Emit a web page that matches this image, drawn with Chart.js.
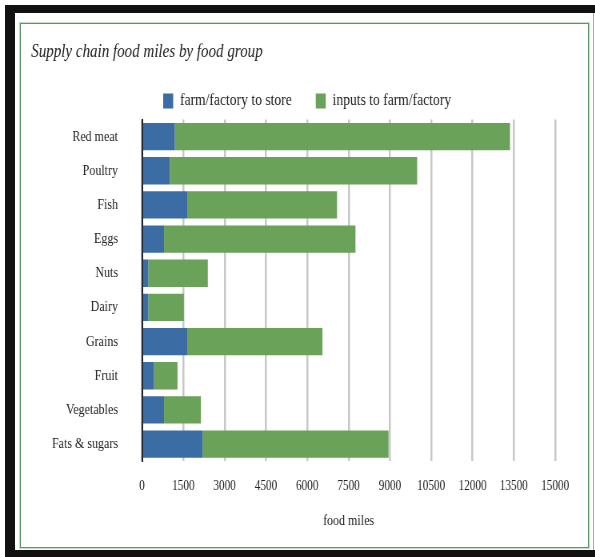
<!DOCTYPE html>
<html>
<head>
<meta charset="utf-8">
<script src="https://cdn.jsdelivr.net/npm/chart.js@4.4.0/dist/chart.umd.min.js"></script>
<style>
  body { margin: 0; background: #fff; overflow: hidden; }
  .frame { position: absolute; }
  #wrap { position: absolute; left: 0; top: 0; width: 744px; height: 557px; transform: scaleX(0.8); transform-origin: 0 0; }
</style>
</head>
<body>
<div class="frame" style="left:5px;top:5px;width:590px;height:8px;background:#111"></div>
<div class="frame" style="left:5px;top:5px;width:10px;height:552px;background:#111"></div>
<div class="frame" style="left:5px;top:550px;width:590px;height:7px;background:#111"></div>
<div class="frame" style="left:593px;top:13px;width:1px;height:537px;background:#aaa"></div>
<div class="frame" style="left:20px;top:23px;width:567px;height:523px;border:1px solid #5b9467;box-shadow:0 0 1px 1px #c9dfcc"></div>
<div id="wrap"><canvas id="chart" width="744" height="557"></canvas></div>
<script>
// food groups, top to bottom
const categories = ['Red meat', 'Poultry', 'Fish', 'Eggs', 'Nuts', 'Dairy', 'Grains', 'Fruit', 'Vegetables', 'Fats & sugars'];
// miles from farm/factory to store
const farmToStore = [1190, 1010, 1640, 800, 230, 230, 1640, 440, 800, 2200];
// miles for inputs to farm/factory
const inputsToFarm = [12170, 8980, 5440, 6950, 2160, 1290, 4910, 850, 1340, 6750];
// x axis ticks
const xTicks = [0, 1500, 3000, 4500, 6000, 7500, 9000, 10500, 12000, 13500, 15000];

const blue = '#3b6ca3';
const green = '#6aa259';

Chart.defaults.font.family = "'Liberation Serif', serif";
Chart.defaults.color = '#222';

// move the legend to where it sits in the original
const legendShift = {
    id: 'legendShift',
    afterLayout(chart) {
        chart.legend.left = 174;
    }
};

new Chart(document.getElementById('chart'), {
    type: 'bar',
    data: {
        labels: categories,
        datasets: [
            { label: 'farm/factory to store', data: farmToStore, backgroundColor: blue, borderWidth: 0 },
            { label: 'inputs to farm/factory', data: inputsToFarm, backgroundColor: green, borderWidth: 0 }
        ]
    },
    options: {
        indexAxis: 'y',
        responsive: false,
        animation: false,
        devicePixelRatio: 1,
        layout: { padding: { left: 39, right: 50, top: 0, bottom: 0 } },
        datasets: { bar: { categoryPercentage: 0.8, barPercentage: 1.0 } },
        plugins: {
            title: {
                display: true,
                text: 'Supply chain food miles by food group',
                align: 'start',
                font: { size: 18.8, style: 'italic', weight: 'normal', lineHeight: 1 },
                color: '#222',
                padding: { top: 43, bottom: 0.7 }
            },
            legend: {
                display: true,
                align: 'start',
                labels: {
                    boxWidth: 12.5,
                    boxHeight: 15,
                    padding: 30,
                    font: { size: 17 },
                    color: '#222'
                }
            },
            tooltip: { enabled: false }
        },
        scales: {
            x: {
                stacked: true,
                min: 0,
                max: 15000,
                afterBuildTicks: (scale) => {
                    scale.ticks = xTicks.map(v => ({ value: v }));
                },
                grid: { color: '#c8c8c8', lineWidth: 2.5, drawTicks: false },
                border: { display: false },
                ticks: {
                    padding: 17,
                    font: { size: 14 },
                    color: '#222',
                    callback: (value) => String(value)
                },
                title: {
                    display: true,
                    text: 'food miles',
                    font: { size: 15 },
                    color: '#222',
                    padding: { top: 0, bottom: 27 }
                }
            },
            y: {
                stacked: true,
                grid: { display: false, drawTicks: false },
                border: { display: true, color: '#222', width: 2 },
                ticks: { padding: 30, font: { size: 15 }, color: '#222' },
                afterFit: (scale) => {
                    scale.width = 138.5;
                }
            }
        }
    },
    plugins: [legendShift]
});
</script>
</body>
</html>
